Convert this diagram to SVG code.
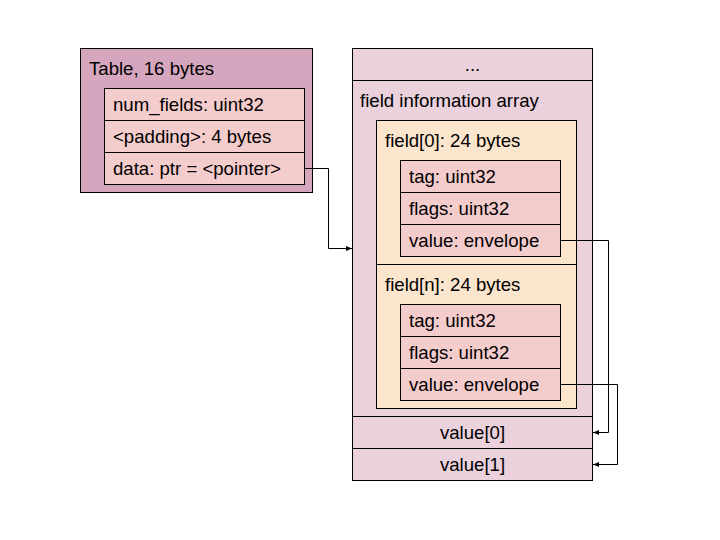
<svg xmlns="http://www.w3.org/2000/svg" width="720" height="540" viewBox="0 0 720 540">
<style>
.b{stroke:#000;stroke-width:1}
.t{font-family:"Liberation Sans",Arial,sans-serif;font-size:18.6px;fill:#000}
.c{text-anchor:middle}
.pur{fill:#d5a6bd}
.lp{fill:#ead1dc}
.or{fill:#fce5cd}
.pk{fill:#f4cccc}
.ln{fill:none;stroke:#000;stroke-width:1}
</style>
<defs>
<marker id="ah" markerWidth="7" markerHeight="6" refX="6" refY="3" orient="auto" markerUnits="userSpaceOnUse">
<path d="M0,0.5 L6,3 L0,5.5 Z" fill="#000"/>
</marker>
</defs>
<rect width="720" height="540" fill="#fff"/>
<g id="table">
<rect class="b pur" x="80.5" y="48.5" width="232" height="144"/>
<text class="t" x="89" y="75">Table, 16 bytes</text>
<rect class="b pk" x="104.5" y="88.5" width="200" height="32"/>
<text class="t" x="113" y="111">num_fields: uint32</text>
<rect class="b pk" x="104.5" y="120.5" width="200" height="32"/>
<text class="t" x="113" y="143">&lt;padding&gt;: 4 bytes</text>
<rect class="b pk" x="104.5" y="152.5" width="200" height="32"/>
<text class="t" x="113" y="175">data: ptr = &lt;pointer&gt;</text>
</g>
<g id="data-block">
<rect class="b lp" x="352.5" y="48.5" width="240" height="32"/>
<text class="t c" x="472.5" y="71">...</text>
<rect class="b lp" x="352.5" y="80.5" width="240" height="336"/>
<text class="t" x="360" y="107">field information array</text>
</g>
<g id="field0">
<rect class="b or" x="376.5" y="120.5" width="200" height="144"/>
<text class="t" x="385" y="147">field[0]: 24 bytes</text>
<rect class="b pk" x="400.5" y="160.5" width="160" height="32"/>
<text class="t" x="409" y="183">tag: uint32</text>
<rect class="b pk" x="400.5" y="192.5" width="160" height="32"/>
<text class="t" x="409" y="215">flags: uint32</text>
<rect class="b pk" x="400.5" y="224.5" width="160" height="32"/>
<text class="t" x="409" y="247">value: envelope</text>
</g>
<g id="fieldn">
<rect class="b or" x="376.5" y="264.5" width="200" height="144"/>
<text class="t" x="385" y="291">field[n]: 24 bytes</text>
<rect class="b pk" x="400.5" y="304.5" width="160" height="32"/>
<text class="t" x="409" y="327">tag: uint32</text>
<rect class="b pk" x="400.5" y="336.5" width="160" height="32"/>
<text class="t" x="409" y="359">flags: uint32</text>
<rect class="b pk" x="400.5" y="368.5" width="160" height="32"/>
<text class="t" x="409" y="391">value: envelope</text>
</g>
<g id="value0">
<rect class="b lp" x="352.5" y="416.5" width="240" height="32"/>
<text class="t c" x="472.5" y="439">value[0]</text>
</g>
<g id="value1">
<rect class="b lp" x="352.5" y="448.5" width="240" height="32"/>
<text class="t c" x="472.5" y="471">value[1]</text>
</g>
<g id="connectors">
<path class="ln" d="M304.5,168.5 H328.5 V248.5 H352" marker-end="url(#ah)"/>
<path class="ln" d="M560.5,240.5 H608.5 V432.5 H593" marker-end="url(#ah)"/>
<path class="ln" d="M560.5,384.5 H617.5 V464.5 H593" marker-end="url(#ah)"/>
</g>
</svg>
